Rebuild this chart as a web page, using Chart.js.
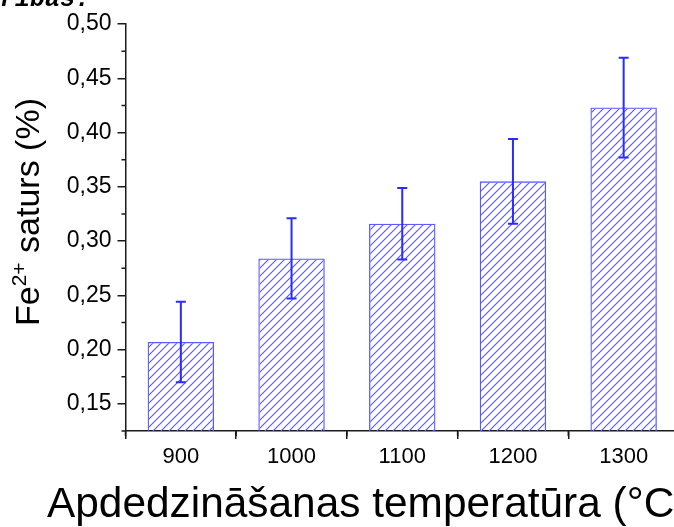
<!DOCTYPE html>
<html>
<head>
<meta charset="utf-8">
<script src="https://cdn.jsdelivr.net/npm/chart.js@4"></script>
<style>
  html, body { margin: 0; padding: 0; background: #fff; overflow: hidden; }
  #wrap { position: relative; width: 700px; height: 527px; }
</style>
</head>
<body>
<div id="wrap"><canvas id="fe-chart"></canvas></div>
<script>
// calcination temperature (°C) and Fe2+ content (%) with std. deviation
var temperatures = [900, 1000, 1100, 1200, 1300];
var feContent = [0.207, 0.284, 0.316, 0.355, 0.423];
var feError = [0.037, 0.037, 0.033, 0.039, 0.046];
var yTicks = [0.15, 0.20, 0.25, 0.30, 0.35, 0.40, 0.45, 0.50];
var xTicks = [900, 1000, 1100, 1200, 1300];

var blue = '#2b2bff';
var axisColor = '#1a1a1a';
var font = '"Liberation Sans", Arial, sans-serif';

// diagonal hatch fill for the bars
function hatch() {
  var c = document.createElement('canvas');
  c.width = 8; c.height = 8;
  var g = c.getContext('2d');
  g.strokeStyle = '#5858ff';
  g.lineWidth = 1.1;
  g.beginPath();
  g.moveTo(0, 8); g.lineTo(8, 0);
  g.moveTo(-2, 2); g.lineTo(2, -2);
  g.moveTo(6, 10); g.lineTo(10, 6);
  g.stroke();
  return g.createPattern(c, 'repeat');
}

var errorBars = {
  id: 'errorBars',
  afterDatasetsDraw: function (chart) {
    var ctx = chart.ctx, xs = chart.scales.x, ys = chart.scales.y;
    ctx.save();
    ctx.strokeStyle = blue;
    ctx.lineWidth = 2;
    for (var i = 0; i < temperatures.length; i++) {
      var x = xs.getPixelForValue(temperatures[i]);
      var top = ys.getPixelForValue(feContent[i] + feError[i]);
      var bot = ys.getPixelForValue(feContent[i] - feError[i]);
      ctx.beginPath();
      ctx.moveTo(x, top); ctx.lineTo(x, bot);
      ctx.moveTo(x - 5, top); ctx.lineTo(x + 5, top);
      ctx.moveTo(x - 5, bot); ctx.lineTo(x + 5, bot);
      ctx.stroke();
    }
    ctx.restore();
  }
};

// minor ticks and the axis titles
var decor = {
  id: 'decor',
  afterDraw: function (chart) {
    var ctx = chart.ctx, xs = chart.scales.x, ys = chart.scales.y, a = chart.chartArea;
    ctx.save();
    ctx.strokeStyle = axisColor;
    ctx.lineWidth = 1.5;
    ctx.beginPath();
    for (var v = 0.125; v < 0.5; v += 0.05) {
      var y = ys.getPixelForValue(v);
      ctx.moveTo(a.left - 4, y); ctx.lineTo(a.left, y);
    }
    for (var t = 850; t <= 1350; t += 100) {
      var x = xs.getPixelForValue(t);
      ctx.moveTo(x, a.bottom); ctx.lineTo(x, a.bottom + 5);
    }
    ctx.stroke();

    ctx.fillStyle = '#000';
    ctx.textBaseline = 'alphabetic';
    ctx.font = '42.4px ' + font;
    ctx.fillText('Apdedzināšanas temperatūra (°C)', 47, 517);

    // rotated y title with superscript charge
    ctx.translate(39, 212);
    ctx.rotate(-Math.PI / 2);
    var big = '34px ' + font, small = '21px ' + font;
    ctx.font = big;
    var w1 = ctx.measureText('Fe').width, w3 = ctx.measureText(' saturs (%)').width;
    ctx.font = small;
    var w2 = ctx.measureText('2+').width;
    var x0 = -(w1 + w2 + w3) / 2;
    ctx.font = big;
    ctx.fillText('Fe', x0, 0);
    ctx.font = small;
    ctx.fillText('2+', x0 + w1, -13);
    ctx.font = big;
    ctx.fillText(' saturs (%)', x0 + w1 + w2, 0);
    ctx.restore();

    // tail of the text line above the figure
    ctx.save();
    ctx.fillStyle = '#000';
    ctx.font = 'italic bold 25px "Liberation Mono", monospace';
    ctx.textAlign = 'right';
    ctx.fillText('sakarības.', 90, 6);
    ctx.restore();
  }
};

var ctx = document.getElementById('fe-chart');
var feChart = new Chart(ctx, {
  type: 'bar',
  data: {
    datasets: [{
      data: temperatures.map(function (t, i) { return { x: t, y: feContent[i] }; }),
      backgroundColor: hatch(),
      borderColor: '#5a5aff',
      borderWidth: 1.3,
      categoryPercentage: 0.6,
      barPercentage: 1.0
    }]
  },
  options: {
    responsive: true, maintainAspectRatio: false, animation: false,
    layout: { padding: { left: 0, top: 24, right: 21, bottom: 0 } },
    plugins: { legend: { display: false }, title: { display: false }, tooltip: { enabled: false } },
    scales: {
      x: {
        type: 'linear', min: 850, max: 1350, offset: false,
        afterBuildTicks: function (s) { s.ticks = xTicks.map(function (v) { return { value: v }; }); },
        afterFit: function (s) { s.height = 96; },
        grid: { drawOnChartArea: false, drawTicks: true, tickLength: 8, color: axisColor, lineWidth: 1.5 },
        border: { display: true, color: axisColor, width: 1.5 },
        ticks: { font: { family: font, size: 22 }, color: '#000', padding: 5, maxRotation: 0,
          callback: function (v) { return String(v); } }
      },
      y: {
        min: 0.125, max: 0.5,
        afterBuildTicks: function (s) { s.ticks = yTicks.map(function (v) { return { value: v }; }); },
        afterFit: function (s) { s.width = 125.5; },
        grid: { drawOnChartArea: false, drawTicks: true, tickLength: 8, color: axisColor, lineWidth: 1.5 },
        border: { display: true, color: axisColor, width: 1.5 },
        ticks: { font: { family: font, size: 23 }, color: '#000', padding: 6,
          callback: function (v) { return v.toFixed(2).replace('.', ','); } }
      }
    }
  },
  plugins: [errorBars, decor]
});
</script>
</body>
</html>
